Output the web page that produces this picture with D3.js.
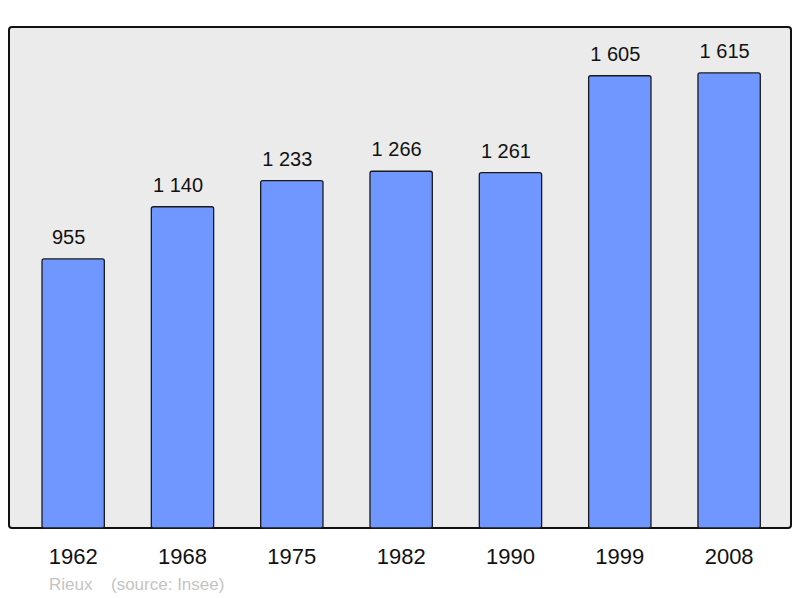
<!DOCTYPE html>
<html><head><meta charset="utf-8">
<script src="https://cdn.jsdelivr.net/npm/d3@7"></script>
<style>body{margin:0;background:#fff}svg{display:block}</style>
</head><body>
<script>
const years = ["1962","1968","1975","1982","1990","1999","2008"];
const population = [955, 1140, 1233, 1266, 1261, 1605, 1615];
const valueLabels = ["955","1 140","1 233","1 266","1 261","1 605","1 615"];
const placeName = "Rieux";
const sourceText = "(source: Insee)";

const W = 800, H = 598;
const svg = d3.select("body").append("svg").attr("width", W).attr("height", H);
const font = "'Liberation Sans', Arial, sans-serif";

const panel = {x0: 9, y0: 27, x1: 791, y1: 528};
svg.append("rect").attr("x", panel.x0).attr("y", panel.y0)
  .attr("width", panel.x1 - panel.x0).attr("height", panel.y1 - panel.y0)
  .attr("rx", 3).attr("fill", "#ebebeb").attr("stroke", "#111").attr("stroke-width", 2);

const x = d3.scaleBand().domain(years).range([18.5, 783.8]).paddingInner(0.43).paddingOuter(0.215);
const y = d3.scaleLinear().domain([0, 1778]).range([panel.y1, panel.y0]);

const g = svg.append("g");
g.selectAll("rect.bar").data(years).join("rect").attr("class","bar")
  .attr("x", d => x(d)).attr("width", x.bandwidth())
  .attr("y", (d,i) => y(population[i])).attr("height", (d,i) => y(0) - y(population[i]))
  .attr("rx", 2).attr("fill", "#7097ff").attr("stroke", "#1a1a1a").attr("stroke-width", 1.3);

g.selectAll("text.val").data(years).join("text").attr("class","val")
  .attr("x", d => x(d) + x.bandwidth()/2 - 4.5).attr("y", (d,i) => y(population[i]) - 15)
  .attr("text-anchor", "middle").attr("font-family", font).attr("font-size", 20).attr("fill", "#111")
  .text((d,i) => valueLabels[i]);

const xAxis = d3.axisBottom(x).tickSize(0).tickPadding(0);
const ax = svg.append("g").attr("transform", `translate(0,${panel.y1})`).call(xAxis);
ax.select(".domain").remove();
ax.selectAll("text").attr("font-family", font).attr("font-size", 22).attr("fill", "#111")
  .attr("dy", null).attr("y", 36);

svg.append("text").attr("x", 49).attr("y", 590).attr("font-family", font).attr("font-size", 17)
  .attr("fill", "#c4c4c4").text(placeName);
svg.append("text").attr("x", 111).attr("y", 590).attr("font-family", font).attr("font-size", 17)
  .attr("fill", "#c4c4c4").text(sourceText);
</script>
</body></html>
